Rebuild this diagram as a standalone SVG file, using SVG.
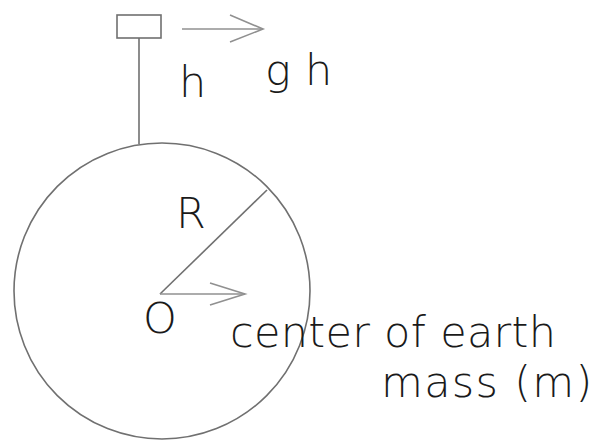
<svg xmlns="http://www.w3.org/2000/svg" width="594" height="441" viewBox="0 0 594 441">
<style>
.ln{fill:none;stroke:#707070;stroke-width:1.6}
.ar{fill:none;stroke:#909090;stroke-width:1.6}
.t{font-family:"DejaVu Sans",sans-serif;font-size:43px;font-weight:200;fill:#1a1a1a;letter-spacing:0.3px}
</style>
<rect width="594" height="441" fill="#ffffff"/>
<g id="earth">
<circle class="ln" cx="162" cy="291" r="148"/>
</g>
<g id="mass-block">
<rect class="ln" x="117" y="15" width="44" height="23"/>
</g>
<g id="connectors">
<line class="ln" x1="139" y1="38" x2="139" y2="144"/>
<line class="ln" x1="160" y1="294" x2="267" y2="190"/>
<line class="ar" x1="160" y1="294" x2="245" y2="294"/>
<polyline class="ar" points="210,283 245,294 210,305"/>
<line class="ar" x1="182" y1="29" x2="263" y2="29"/>
<polyline class="ar" points="230,15 263,29 230,42"/>
</g>
<g id="labels">
<text class="t" x="179" y="97">h</text>
<text class="t" x="265" y="85">g h</text>
<text class="t" x="176" y="228">R</text>
<text class="t" x="143" y="333">O</text>
<text class="t" x="230" y="347">center of earth</text>
<text class="t" x="381" y="397" style="letter-spacing:1.3px">mass (m)</text>
</g>
</svg>
